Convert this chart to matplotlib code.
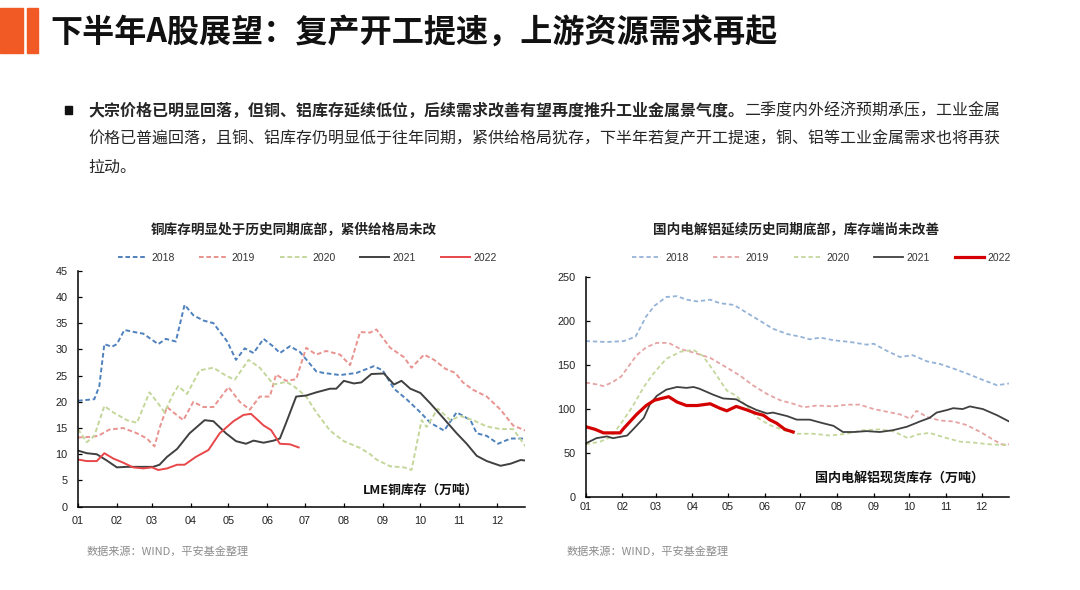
import matplotlib
matplotlib.use("Agg")
import matplotlib.pyplot as plt
from matplotlib.patches import Rectangle

plt.rcParams['font.family'] = ['Noto Sans CJK SC', 'DejaVu Sans']

# ---------------- data ----------------
title = "下半年A股展望：复产开工提速，上游资源需求再起"
bullet_bold = "大宗价格已明显回落，但铜、铝库存延续低位，后续需求改善有望再度推升工业金属景气度。"
bullet_rest1 = "二季度内外经济预期承压，工业金属"
bullet_line2 = "价格已普遍回落，且铜、铝库存仍明显低于往年同期，紧供给格局犹存，下半年若复产开工提速，铜、铝等工业金属需求也将再获"
bullet_line3 = "拉动。"
cu_title = "铜库存明显处于历史同期底部，紧供给格局未改"
al_title = "国内电解铝延续历史同期底部，库存端尚未改善"
cu_label = "LME铜库存（万吨）"
al_label = "国内电解铝现货库存（万吨）"
source = "数据来源：WIND，平安基金整理"

years = ["2018", "2019", "2020", "2021", "2022"]
month_days = [0, 31, 59, 90, 120, 151, 181, 212, 243, 273, 304, 334]
month_labels = ["01", "02", "03", "04", "05", "06", "07", "08", "09", "10", "11", "12"]
cu_yticks = [0, 5, 10, 15, 20, 25, 30, 35, 40, 45]
al_yticks = [0, 50, 100, 150, 200, 250]

# LME copper inventory (10k t), x = day of year
cu_days_2018 = [0, 13, 17, 21, 27, 31, 37, 47, 52, 64, 70, 78, 85, 92, 100, 108, 119, 126, 133, 140, 148, 156, 161,
                169, 177, 190, 196, 209, 222, 236, 243, 252, 262, 273, 281, 292, 302, 313, 318, 326, 335, 345, 357]
cu_2018 = [20.2, 20.5, 23, 31, 30.5, 31, 33.7, 33.2, 33, 31, 32, 31.5, 38.5, 36.5, 35.5, 35, 31.5, 28, 30.2, 29.3,
           32, 30.5, 29.3, 30.6, 29.5, 25.8, 25.5, 25.1, 25.5, 26.8, 26, 22.5, 20.5, 18, 16, 14.5, 18, 16.5, 14,
           13.5, 12, 13, 13]
cu_days_2019 = [0, 9, 16, 25, 36, 47, 55, 61, 65, 71, 76, 84, 92, 100, 108, 120, 129, 137, 145, 153, 158, 166, 174,
                182, 190, 198, 209, 217, 225, 233, 238, 249, 260, 266, 276, 284, 293, 301, 307, 315, 326, 337, 347, 357]
cu_2019 = [13.2, 13.3, 13.5, 14.7, 15, 14, 13, 11.5, 15, 19, 18, 16.5, 20, 19, 19, 22.8, 20, 18.5, 21, 21, 25.2,
           24, 24.3, 30.3, 29, 29.7, 29, 27, 33.3, 33.2, 33.8, 30.3, 28.5, 26.5, 29, 28, 26.3, 25.5, 23.7, 22.3,
           21, 18.5, 15.5, 14.5]
cu_days_2020 = [0, 7, 13, 21, 28, 39, 47, 57, 63, 69, 76, 80, 87, 97, 108, 118, 125, 136, 145, 156, 166, 172, 182,
                190, 201, 212, 225, 233, 238, 249, 260, 266, 274, 278, 287, 297, 305, 315, 326, 337, 347, 357]
cu_2020 = [14.8, 12.3, 13.5, 19.2, 18, 16.5, 16, 21.8, 20, 18, 21.5, 23, 21.5, 26, 26.5, 25, 24.2, 28, 26.5, 23.3,
           23.8, 23, 21, 18, 14.5, 12.5, 11.2, 10, 9, 7.7, 7.5, 7, 16.5, 15.2, 18.7, 16.5, 17.3, 16.5, 15.3, 14.8,
           14.8, 11.5]
cu_days_2021 = [0, 7, 15, 23, 31, 39, 49, 60, 65, 71, 79, 89, 101, 108, 118, 126, 134, 140, 148, 156, 161, 166, 174,
                182, 190, 201, 206, 212, 220, 226, 234, 244, 252, 258, 265, 273, 281, 291, 302, 310, 318, 326, 337,
                345, 353, 357]
cu_2021 = [10.7, 10.2, 10, 8.8, 7.5, 7.6, 7.6, 7.6, 8, 9.5, 11, 14, 16.5, 16.3, 14, 12.5, 12, 12.6, 12.2, 12.6, 13,
           16, 21, 21.2, 21.8, 22.5, 22.5, 24, 23.5, 23.7, 25.3, 25.4, 23.3, 24, 22.5, 21.7, 19.7, 17, 14, 12, 9.7,
           8.7, 7.8, 8.2, 8.9, 8.8]
cu_days_2022 = [0, 7, 15, 21, 28, 36, 44, 52, 59, 64, 71, 79, 85, 94, 104, 113, 124, 132, 138, 148, 154, 161, 169, 176]
cu_2022 = [9, 8.7, 8.7, 10.2, 9.2, 8.4, 7.5, 7.3, 7.5, 7, 7.3, 8, 8, 9.5, 10.8, 14, 16.3, 17.5, 17.7, 15.5, 14.6, 12,
           11.9, 11.3]

# Domestic electrolytic aluminium spot inventory (10k t)
al_days_2018 = [0, 18, 32, 42, 51, 58, 68, 77, 85, 94, 105, 113, 125, 136, 147, 158, 170, 181, 189, 198, 209, 223,
                237, 243, 254, 265, 276, 288, 299, 310, 324, 335, 347, 357]
al_2018 = [177, 176, 177, 182, 205, 217, 227, 228, 224, 222, 224, 220, 218, 209, 200, 191, 185, 182, 179, 181, 178,
           176, 173, 174, 166, 159, 161, 154, 151, 146, 139, 133, 127, 129]
al_days_2019 = [0, 9, 15, 22, 30, 37, 43, 51, 60, 70, 80, 91, 105, 119, 130, 141, 153, 164, 175, 184, 195, 209, 220,
                231, 243, 254, 265, 274, 279, 288, 299, 310, 321, 333, 344, 351, 357]
al_2019 = [130, 128, 126, 130, 137, 150, 161, 170, 175, 175, 168, 164, 158, 147, 138, 127, 117, 110, 106, 102, 104,
           103, 105, 105, 100, 97, 94, 89, 98, 91, 87, 86, 82, 74, 65, 60, 60]
al_days_2020 = [0, 12, 21, 30, 40, 49, 57, 68, 80, 91, 99, 108, 119, 127, 136, 144, 155, 167, 178, 192, 206, 220,
                234, 248, 259, 272, 279, 290, 302, 316, 327, 341, 357]
al_2020 = [60, 63, 68, 84, 104, 125, 140, 157, 165, 167, 160, 143, 121, 115, 103, 91, 82, 76, 72, 72, 70, 72, 76, 77,
           75, 67, 71, 73, 68, 63, 62, 60, 59]
al_days_2021 = [0, 9, 18, 23, 35, 40, 49, 54, 60, 68, 77, 85, 91, 96, 108, 116, 127, 136, 144, 153, 158, 170, 178,
                189, 200, 209, 217, 226, 237, 248, 259, 271, 282, 290, 296, 305, 310, 318, 324, 335, 347, 357]
al_2021 = [61, 67, 69, 67, 70, 77, 90, 105, 115, 122, 125, 124, 125, 123, 116, 112, 111, 104, 99, 95, 96, 92, 88, 88,
           84, 81, 74, 74, 75, 74, 76, 80, 86, 90, 96, 99, 101, 100, 103, 100, 93, 86]
al_days_2022 = [0, 8, 15, 29, 32, 43, 51, 58, 70, 77, 85, 94, 105, 113, 119, 127, 136, 144, 150, 155, 161, 168, 175]
al_2022 = [80, 77, 73, 73, 78, 94, 104, 110, 114, 108, 104, 104, 106, 101, 98, 103, 99, 95, 93, 88, 84, 77, 74]

# ---------------- figure ----------------
W, H = 1080, 590
fig = plt.figure(figsize=(W / 100, H / 100), dpi=100)
fig.patch.set_facecolor("white")


def fx(px):
    return px / W


def fy(py):
    return 1 - py / H


# header bars
orange = "#F15A24"
fig.patches.append(Rectangle((fx(0), fy(53)), fx(23), 45 / H, transform=fig.transFigure, color=orange, zorder=1))
fig.patches.append(Rectangle((fx(27), fy(53)), fx(11), 45 / H, transform=fig.transFigure, color=orange, zorder=1))
fig.text(fx(50), fy(33), title, fontsize=23.1, fontweight="bold", color="#111111", va="center", ha="left")

# bullet
fig.patches.append(Rectangle((fx(65), fy(114)), fx(7), 8 / H, transform=fig.transFigure, color="#111111"))
txt_color = "#262626"
bfs = 11.5
t1 = fig.text(fx(88), fy(110.5), bullet_bold, fontsize=bfs, fontweight="bold", color=txt_color, va="center", ha="left")
fig.canvas.draw()
bb = t1.get_window_extent(renderer=fig.canvas.get_renderer())
fig.text(bb.x1 / W, fy(110.5), bullet_rest1, fontsize=bfs, color=txt_color, va="center", ha="left")
fig.text(fx(88), fy(139), bullet_line2, fontsize=bfs, color=txt_color, va="center", ha="left")
fig.text(fx(88), fy(167), bullet_line3, fontsize=bfs, color=txt_color, va="center", ha="left")

# ---------------- axes ----------------
ax1 = fig.add_axes([fx(78), fy(506.7), fx(525 - 78), (506.7 - 270.7) / H])
ax2 = fig.add_axes([fx(585.7), fy(497.3), fx(1009.3 - 585.7), (497.3 - 276.7) / H])

cu_colors = ["#4F81BD", "#E8938F", "#C4D79B", "#404040", "#E8474A"]
al_colors = ["#95B3D7", "#E6A3A3", "#C4D79B", "#404040", "#D40000"]

cu_series = [(cu_days_2018, cu_2018), (cu_days_2019, cu_2019), (cu_days_2020, cu_2020),
             (cu_days_2021, cu_2021), (cu_days_2022, cu_2022)]
al_series = [(al_days_2018, al_2018), (al_days_2019, al_2019), (al_days_2020, al_2020),
             (al_days_2021, al_2021), (al_days_2022, al_2022)]

cu_lines = []
for i, (d, v) in enumerate(cu_series):
    ls = (0, (2.4, 1.4)) if i < 3 else "-"
    ln, = ax1.plot(d, v, color=cu_colors[i], lw=1.4, ls=ls, label=years[i])
    cu_lines.append(ln)

al_lines = []
for i, (d, v) in enumerate(al_series):
    ls = (0, (2.4, 1.6)) if i < 3 else "-"
    lw = 2.3 if i == 4 else 1.3
    ln, = ax2.plot(d, v, color=al_colors[i], lw=lw, ls=ls, label=years[i])
    al_lines.append(ln)

for ax, yt, ylim, xmax, ypad, xpad in [(ax1, cu_yticks, 45, 356.5, 7.5, 6.5), (ax2, al_yticks, 250, 357.3, 7.5, 3.5)]:
    ax.set_xlim(0, xmax)
    ax.set_ylim(0, ylim)
    ax.set_xticks(month_days)
    ax.set_xticklabels(month_labels)
    ax.set_yticks(yt)
    for s in ["top", "right"]:
        ax.spines[s].set_visible(False)
    for s in ["left", "bottom"]:
        ax.spines[s].set_linewidth(1.1)
        ax.spines[s].set_color("#000000")
    ax.tick_params(axis="both", direction="in", length=3, width=0.9, labelsize=7.8, labelcolor="#222222")
    ax.tick_params(axis="y", pad=ypad)
    ax.tick_params(axis="x", pad=xpad)
    for lab in ax.get_xticklabels() + ax.get_yticklabels():
        lab.set_fontfamily(["Liberation Sans", "DejaVu Sans"])
    ax.set_facecolor("none")

# chart titles
fig.text(fx(294), fy(229), cu_title, fontsize=9.8, fontweight="bold", color="#222222", ha="center", va="center")
fig.text(fx(796), fy(229), al_title, fontsize=9.8, fontweight="bold", color="#222222", ha="center", va="center")

# legends
leg_kw = dict(ncol=5, frameon=False, loc="center left", bbox_transform=fig.transFigure, borderpad=0,
              handlelength=2.8, handletextpad=0.35, columnspacing=2.35,
              prop={"family": ["Liberation Sans", "DejaVu Sans"], "size": 7.5})
lg1 = ax1.legend(handles=cu_lines, bbox_to_anchor=(fx(113), fy(258)), **leg_kw)
lg2 = ax2.legend(handles=al_lines, bbox_to_anchor=(fx(627), fy(258)), **leg_kw)
for lg in (lg1, lg2):
    for t in lg.get_texts():
        t.set_color("#333333")

# in-chart labels
fig.text(fx(421), fy(490), cu_label, fontsize=9.2, fontweight="bold", color="#111111", ha="center", va="center")
fig.text(fx(900), fy(478), al_label, fontsize=9.4, fontweight="bold", color="#111111", ha="center", va="center")

# sources
fig.text(fx(87), fy(551), source, fontsize=8.0, color="#8C8C8C", ha="left", va="center")
fig.text(fx(567), fy(551), source, fontsize=8.0, color="#8C8C8C", ha="left", va="center")

fig.savefig("out.png", dpi=100, facecolor="white")
